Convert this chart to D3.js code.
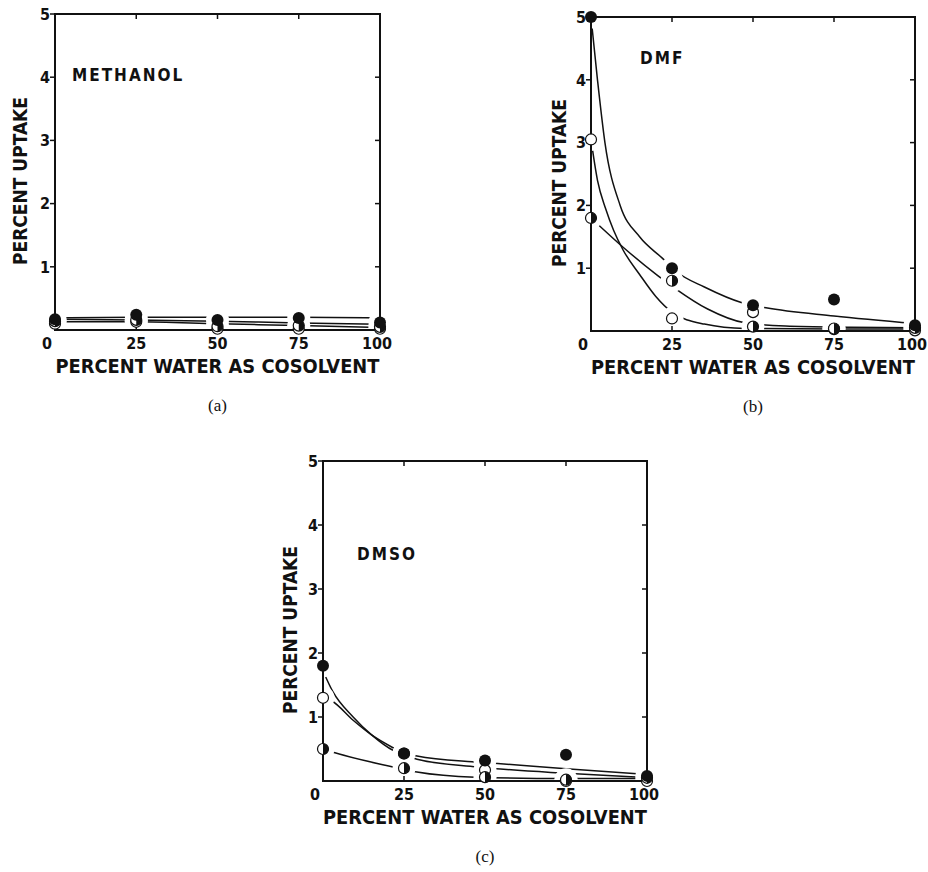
<!DOCTYPE html>
<html>
<head>
<meta charset="utf-8">
<script src="https://cdn.jsdelivr.net/npm/d3@7"></script>
<style>
  body { margin: 0; background: #fff; }
  svg { display: block; }
  .lbl { font-family: "DejaVu Sans Condensed", "DejaVu Sans", sans-serif; font-weight: bold; fill: #111; }
  .ttl { font-family: "DejaVu Sans Condensed", "DejaVu Sans", sans-serif; font-weight: 600; fill: #111; }
  .cap { font-family: "Liberation Serif", "DejaVu Serif", serif; fill: #111; }
</style>
</head>
<body>
<svg id="chart" width="928" height="872"></svg>
<script>
// x positions shared by all three panels (percent water)
const xValues = [0, 25, 50, 75, 100];
const xTicks = [0, 25, 50, 75, 100];
const yTicks = [1, 2, 3, 4, 5];

// (a) methanol
const methanolFilled = [0.17, 0.24, 0.16, 0.19, 0.12];
const methanolHalf   = [0.14, 0.16, 0.06, 0.07, 0.05];
const methanolOpen   = [0.10, 0.13, 0.02, 0.02, 0.02];
const methanolFilledCurve = [[0, 0.19], [25, 0.2], [50, 0.2], [75, 0.2], [100, 0.19]];
const methanolHalfCurve   = [[0, 0.17], [25, 0.16], [50, 0.14], [75, 0.11], [100, 0.09]];
const methanolOpenCurve   = [[0, 0.13], [25, 0.13], [50, 0.1], [75, 0.07], [100, 0.04]];

// (b) DMF
const dmfFilled = [5.0, 1.0, 0.41, 0.5, 0.09];
const dmfHalf   = [1.8, 0.8, 0.07, 0.04, 0.05];
const dmfOpen   = [3.05, 0.2, 0.3, 0.03, 0.01];
const dmfFilledCurve = [[0, 5.0], [2, 4.0], [4.3, 3.0], [9, 2.0], [15, 1.5], [22, 1.16], [26.5, 0.94], [35, 0.7], [46.6, 0.45], [54, 0.37], [75, 0.24], [100, 0.12]];
const dmfHalfCurve   = [[0, 1.8], [10, 1.33], [20.4, 0.89], [25.9, 0.68], [36, 0.35], [47.5, 0.13], [60, 0.08], [80, 0.06], [100, 0.05]];
const dmfOpenCurve   = [[0, 3.05], [2, 2.4], [4.5, 1.95], [7, 1.6], [9.9, 1.29], [15, 0.9], [20, 0.55], [25, 0.3], [35, 0.11], [47.5, 0.04], [75, 0.03], [100, 0.03]];

// (c) DMSO
const dmsoFilled = [1.8, 0.43, 0.32, 0.41, 0.08];
const dmsoHalf   = [0.5, 0.2, 0.06, 0.02, 0.05];
const dmsoOpen   = [1.3, 0.43, 0.17, 0.0, 0.0];
const dmsoFilledCurve = [[0, 1.72], [3, 1.4], [9.3, 1.0], [15, 0.72], [21.6, 0.48], [29, 0.39], [46, 0.3], [52, 0.28], [75, 0.19], [98, 0.11]];
const dmsoOpenCurve   = [[0, 1.3], [2.7, 1.25], [9.3, 0.95], [15, 0.72], [21.6, 0.52], [29, 0.34], [47.5, 0.22], [75, 0.12], [98, 0.06]];
const dmsoHalfCurve   = [[0, 0.5], [3.7, 0.44], [21.6, 0.22], [29, 0.14], [47, 0.06], [75, 0.04], [100, 0.04]];

const panels = [
  { name: "METHANOL", caption: "(a)", left: 55, right: 380, top: 14, bottom: 330,
    nameX: 72, nameY: 4.03, yTitleX: 20,
    filled: methanolFilled, half: methanolHalf, open: methanolOpen,
    curves: [methanolFilledCurve, methanolHalfCurve, methanolOpenCurve] },
  { name: "DMF", caption: "(b)", left: 591, right: 915, top: 17, bottom: 331,
    nameX: 640, nameY: 4.35, yTitleX: 559,
    filled: dmfFilled, half: dmfHalf, open: dmfOpen,
    curves: [dmfFilledCurve, dmfHalfCurve, dmfOpenCurve] },
  { name: "DMSO", caption: "(c)", left: 323, right: 647, top: 461, bottom: 781,
    nameX: 357, nameY: 3.55, yTitleX: 290,
    filled: dmsoFilled, half: dmsoHalf, open: dmsoOpen,
    curves: [dmsoFilledCurve, dmsoOpenCurve, dmsoHalfCurve] }
];

const svg = d3.select("#chart");
const r = 5.5;

function drawPanel(p) {
  const x = d3.scaleLinear().domain([0, 100]).range([p.left, p.right]);
  const y = d3.scaleLinear().domain([0, 5]).range([p.bottom, p.top]);
  const g = svg.append("g");

  // fitted curves
  const line = d3.line()
    .x(d => x(d[0]))
    .y(d => y(d[1]))
    .curve(d3.curveMonotoneX);

  g.selectAll(".curve")
    .data(p.curves)
    .join("path")
    .attr("d", line)
    .attr("fill", "none")
    .attr("stroke", "#111")
    .attr("stroke-width", 1.5);

  // white gaps round every marker, like the hand-drawn lines
  const allPts = [];
  [p.open, p.half, p.filled].forEach(vals => {
    vals.forEach((v, i) => allPts.push([xValues[i], v]));
  });
  g.selectAll(".gap")
    .data(allPts)
    .join("circle")
    .attr("cx", d => x(d[0]))
    .attr("cy", d => y(d[1]))
    .attr("r", 11.5)
    .attr("fill", "#fff");

  // frame
  g.append("rect")
    .attr("x", p.left)
    .attr("y", p.top)
    .attr("width", p.right - p.left)
    .attr("height", p.bottom - p.top)
    .attr("fill", "none")
    .attr("stroke", "#111")
    .attr("stroke-width", 2);

  // ticks: left outward, right/top/bottom inward
  const tk = g.append("g").attr("stroke", "#111").attr("stroke-width", 1.5);
  yTicks.forEach(t => {
    tk.append("line").attr("x1", p.left - 5).attr("x2", p.left).attr("y1", y(t)).attr("y2", y(t));
    tk.append("line").attr("x1", p.right - 5).attr("x2", p.right).attr("y1", y(t)).attr("y2", y(t));
  });
  xTicks.slice(1, -1).forEach(t => {
    tk.append("line").attr("x1", x(t)).attr("x2", x(t)).attr("y1", p.top).attr("y2", p.top + 5);
    tk.append("line").attr("x1", x(t)).attr("x2", x(t)).attr("y1", p.bottom).attr("y2", p.bottom - 5);
  });

  // tick labels
  g.selectAll(".ylab")
    .data(yTicks)
    .join("text")
    .attr("class", "lbl")
    .attr("x", p.left - 5)
    .attr("y", d => y(d))
    .attr("dy", "0.36em")
    .attr("text-anchor", "end")
    .style("font-size", "16px")
    .text(d => d);

  g.selectAll(".xlab")
    .data(xTicks)
    .join("text")
    .attr("class", "lbl")
    .attr("x", d => d === 0 ? x(d) - 8 : d === 100 ? x(d) - 3 : x(d))
    .attr("y", p.bottom + 19)
    .attr("text-anchor", "middle")
    .style("font-size", "16px")
    .text(d => d);

  // axis titles
  g.append("text")
    .attr("class", "ttl")
    .attr("transform", `translate(${p.yTitleX},${(p.top + p.bottom) / 2 + 9}) rotate(-90)`)
    .attr("dy", "0.36em")
    .attr("text-anchor", "middle")
    .attr("textLength", 168)
    .attr("lengthAdjust", "spacingAndGlyphs")
    .style("font-size", "20px")
    .text("PERCENT UPTAKE");

  g.append("text")
    .attr("class", "ttl")
    .attr("x", (p.left + p.right) / 2)
    .attr("y", p.bottom + 43)
    .attr("text-anchor", "middle")
    .attr("textLength", 324)
    .attr("lengthAdjust", "spacingAndGlyphs")
    .style("font-size", "19px")
    .text("PERCENT WATER AS COSOLVENT");

  // solvent name
  g.append("text")
    .attr("class", "ttl")
    .attr("x", p.nameX)
    .attr("y", y(p.nameY))
    .attr("dy", "0.36em")
    .style("font-size", "17px")
    .style("letter-spacing", "2px")
    .text(p.name);

  // caption
  g.append("text")
    .attr("class", "cap")
    .attr("x", (p.left + p.right) / 2)
    .attr("y", p.bottom + 81)
    .attr("text-anchor", "middle")
    .style("font-size", "17px")
    .text(p.caption);

  // markers: open, half-filled, filled
  g.selectAll(".open")
    .data(p.open)
    .join("circle")
    .attr("cx", (d, i) => x(xValues[i]))
    .attr("cy", d => y(d))
    .attr("r", r)
    .attr("fill", "#fff")
    .attr("stroke", "#111")
    .attr("stroke-width", 1.2);

  const halfArc = d3.arc().innerRadius(0).outerRadius(r).startAngle(0).endAngle(Math.PI);
  const hg = g.selectAll(".half")
    .data(p.half)
    .join("g")
    .attr("transform", (d, i) => `translate(${x(xValues[i])},${y(d)})`);
  hg.append("circle")
    .attr("r", r)
    .attr("fill", "#fff")
    .attr("stroke", "#111")
    .attr("stroke-width", 1.2);
  hg.append("path")
    .attr("d", halfArc())
    .attr("fill", "#111");

  g.selectAll(".filled")
    .data(p.filled)
    .join("circle")
    .attr("cx", (d, i) => x(xValues[i]))
    .attr("cy", d => y(d))
    .attr("r", r + 0.5)
    .attr("fill", "#111");
}

panels.forEach(drawPanel);
</script>
</body>
</html>
